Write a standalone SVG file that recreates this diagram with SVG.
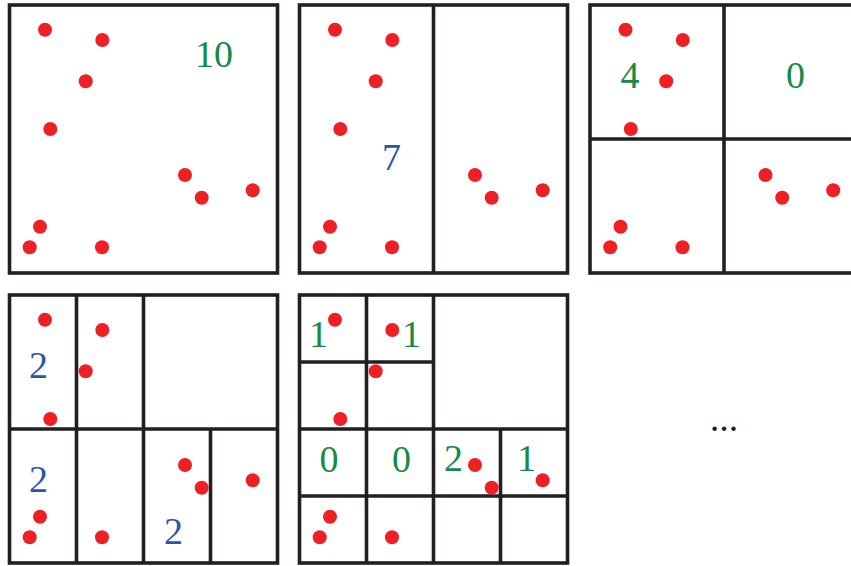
<svg xmlns="http://www.w3.org/2000/svg" xmlns:xlink="http://www.w3.org/1999/xlink" width="851" height="566" viewBox="0 0 851 566">
<style>
.frame{fill:#fff;stroke:#231f20;stroke-width:3.6}
.ln{stroke:#231f20;stroke-width:3.6;fill:none}
.dot{fill:#ee1f25}
.g{fill:#168a44;font-family:"Liberation Serif",serif;font-size:38px;text-anchor:middle}
.b{fill:#2d56a6;font-family:"Liberation Serif",serif;font-size:38px;text-anchor:middle}
.e{fill:#231f20;font-family:"Liberation Serif",serif;font-size:28px;font-weight:bold;text-anchor:middle}
</style>
<defs>
<g id="pts">
<circle class="dot" cx="45" cy="29.7" r="7"/>
<circle class="dot" cx="102.3" cy="40" r="7"/>
<circle class="dot" cx="85.7" cy="81.3" r="7"/>
<circle class="dot" cx="50.3" cy="129" r="7"/>
<circle class="dot" cx="185" cy="175" r="7"/>
<circle class="dot" cx="201.7" cy="197.7" r="7"/>
<circle class="dot" cx="252.7" cy="190.3" r="7"/>
<circle class="dot" cx="40" cy="226.7" r="7"/>
<circle class="dot" cx="29.7" cy="247.3" r="7"/>
<circle class="dot" cx="102" cy="247.3" r="7"/>
</g>
</defs>
<rect width="851" height="566" fill="#fff"/>
<g id="panel1">
<rect class="frame" x="9.5" y="5" width="268" height="268"/>
<use xlink:href="#pts"/>
<text class="g" x="214" y="66.5">10</text>
</g>
<g id="panel2">
<rect class="frame" x="299.5" y="5" width="268" height="268"/>
<line class="ln" x1="433.5" y1="5" x2="433.5" y2="273"/>
<use xlink:href="#pts" x="290"/>
<text class="b" x="391.5" y="170">7</text>
</g>
<g id="panel3">
<rect class="frame" x="590" y="5" width="268" height="268"/>
<line class="ln" x1="724" y1="5" x2="724" y2="273"/>
<line class="ln" x1="590" y1="139" x2="858" y2="139"/>
<use xlink:href="#pts" x="580.5"/>
<text class="g" x="630" y="88">4</text>
<text class="g" x="795.5" y="88">0</text>
</g>
<g id="panel4">
<rect class="frame" x="9.5" y="295" width="268" height="268"/>
<line class="ln" x1="76.5" y1="295" x2="76.5" y2="563"/>
<line class="ln" x1="143.5" y1="295" x2="143.5" y2="563"/>
<line class="ln" x1="9.5" y1="429" x2="277.5" y2="429"/>
<line class="ln" x1="210.5" y1="429" x2="210.5" y2="563"/>
<use xlink:href="#pts" y="290"/>
<text class="b" x="38.5" y="378">2</text>
<text class="b" x="38.5" y="492">2</text>
<text class="b" x="173.5" y="544">2</text>
</g>
<g id="panel5">
<rect class="frame" x="299.5" y="295" width="268" height="268"/>
<line class="ln" x1="366.5" y1="295" x2="366.5" y2="563"/>
<line class="ln" x1="433.5" y1="295" x2="433.5" y2="563"/>
<line class="ln" x1="500.5" y1="429" x2="500.5" y2="563"/>
<line class="ln" x1="299.5" y1="362" x2="433.5" y2="362"/>
<line class="ln" x1="299.5" y1="429" x2="567.5" y2="429"/>
<line class="ln" x1="299.5" y1="496" x2="567.5" y2="496"/>
<use xlink:href="#pts" x="290" y="290"/>
<text class="g" x="318.5" y="346.5">1</text>
<text class="g" x="411.5" y="346.5">1</text>
<text class="g" x="329" y="471.5">0</text>
<text class="g" x="401.5" y="471.5">0</text>
<text class="g" x="453.5" y="471">2</text>
<text class="g" x="526.5" y="471">1</text>
</g>
<g id="ellipsis">
<text class="e" x="724" y="431">…</text>
</g>
</svg>
